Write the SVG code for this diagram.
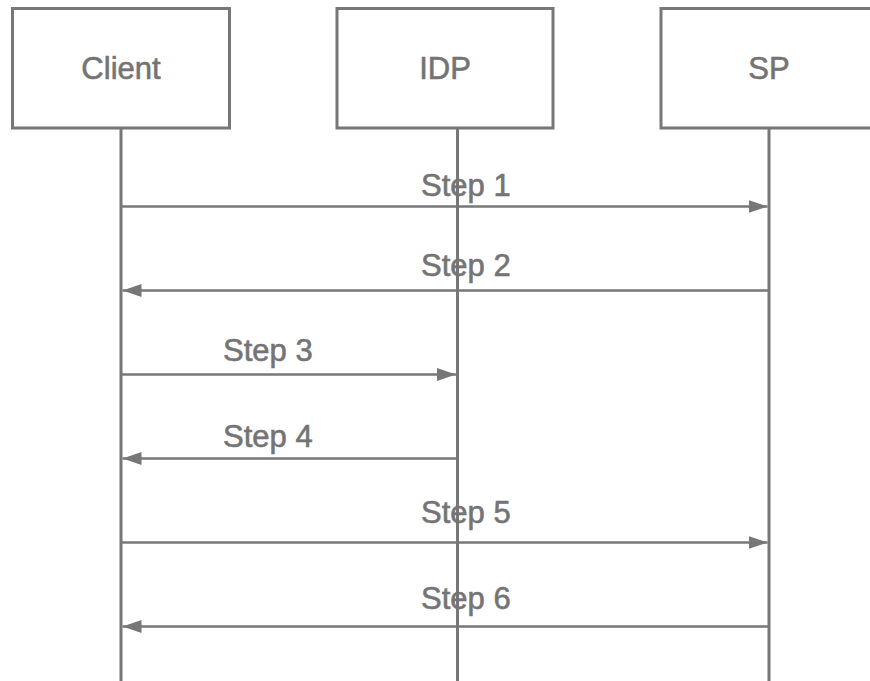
<svg xmlns="http://www.w3.org/2000/svg" width="870" height="681" viewBox="0 0 870 681">
<style>
.box{fill:#fff;stroke:#777;stroke-width:3}
.life{stroke:#777;stroke-width:3;fill:none}
.msg{stroke:#777;stroke-width:2.5;fill:none}
.t{font-family:"Liberation Sans",Arial,sans-serif;font-size:31px;fill:#747474;stroke:#747474;stroke-width:0.6}
.c{text-anchor:middle}
</style>
<defs>
<marker id="ah" markerUnits="userSpaceOnUse" markerWidth="20" markerHeight="14" refX="19" refY="7" orient="auto">
<path d="M0,0.5 L19,7 L0,13.5 Z" fill="#777"/>
</marker>
</defs>
<rect width="870" height="681" fill="#fff"/>
<g id="lifelines">
<line class="life" x1="121" y1="128" x2="121" y2="681"/>
<line class="life" x1="457.5" y1="128" x2="457.5" y2="681"/>
<line class="life" x1="769" y1="128" x2="769" y2="681"/>
</g>
<g id="client">
<rect class="box" x="12.5" y="8.5" width="217" height="119.5"/>
<text class="t c" x="121" y="78.5">Client</text>
</g>
<g id="idp">
<rect class="box" x="337" y="8.5" width="216" height="119.5"/>
<text class="t c" x="445" y="78.5">IDP</text>
</g>
<g id="sp">
<rect class="box" x="661" y="8.5" width="217" height="119.5"/>
<text class="t c" x="769" y="78.5">SP</text>
</g>
<g id="connectors">
<line class="msg" x1="121" y1="206.5" x2="767.5" y2="206.5" marker-end="url(#ah)"/>
<text class="t" x="421" y="195.5">Step 1</text>
<line class="msg" x1="769" y1="290.5" x2="122.5" y2="290.5" marker-end="url(#ah)"/>
<text class="t" x="421" y="276">Step 2</text>
<line class="msg" x1="121" y1="374.5" x2="456" y2="374.5" marker-end="url(#ah)"/>
<text class="t" x="223" y="360.5">Step 3</text>
<line class="msg" x1="457.5" y1="458.5" x2="122.5" y2="458.5" marker-end="url(#ah)"/>
<text class="t" x="223" y="446.5">Step 4</text>
<line class="msg" x1="121" y1="542.5" x2="767.5" y2="542.5" marker-end="url(#ah)"/>
<text class="t" x="421" y="522.5">Step 5</text>
<line class="msg" x1="769" y1="626.5" x2="122.5" y2="626.5" marker-end="url(#ah)"/>
<text class="t" x="421" y="608.5">Step 6</text>
</g>
</svg>
